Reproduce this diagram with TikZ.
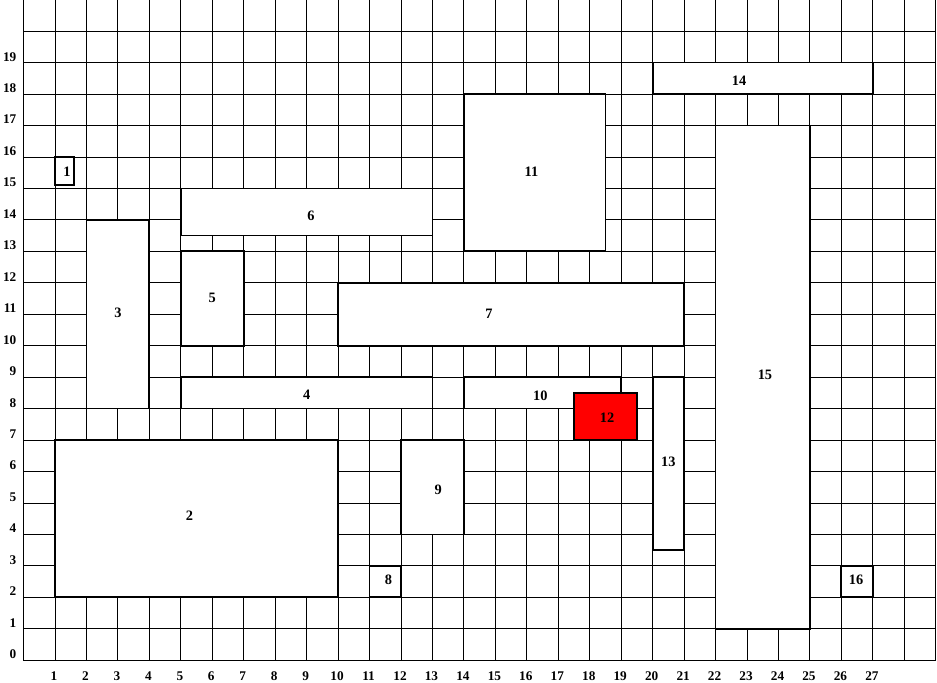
\documentclass[tikz,border=0pt]{standalone}
\usepackage{fontspec}
\setmainfont{Liberation Serif}
\begin{document}
\begin{tikzpicture}[x=1cm,y=1cm,
  gridline/.style={line width=0.8pt,black},
  blk/.style={draw=black,line width=1.6pt,fill=white},
  lbl/.style={font=\fontsize{13}{15}\selectfont\bfseries,inner sep=0pt},
  axl/.style={font=\fontsize{12}{14}\selectfont\bfseries,inner sep=0pt}]
\useasboundingbox (-0.747,-0.70) rectangle (29.04,20.99);
\begin{scope}
\clip (-0.747,-0.70) rectangle (29.04,20.99);
\draw[gridline] (0,0) grid (29,21);
\end{scope}
% axis labels
\foreach \i in {1,...,27} \node[axl,anchor=base] (xl\i) at (\i-0.03,-0.63) {\i};
\foreach \j in {0,...,19} \node[axl,anchor=base east] (yl\j) at (-0.22,\j+0.05) {\j};
% boxes
\draw[blk] (1,15.1) rectangle (1.6,16);
\draw[blk] (1,2) rectangle (10,7);
\draw[blk] (2,8) rectangle (4,14);
\draw[blk] (5,8) rectangle (13,9);
\draw[blk] (5,10) rectangle (7,13);
\draw[blk] (5,13.5) rectangle (13,15);
\draw[blk] (10,10) rectangle (21,12);
\draw[blk] (11,2) rectangle (12,3);
\draw[blk] (12,4) rectangle (14,7);
\draw[blk] (14,8) rectangle (19,9);
\draw[blk] (14,13) rectangle (18.5,18);
\draw[blk,fill=red] (17.5,7) rectangle (19.5,8.5);
\draw[blk] (20,3.5) rectangle (21,9);
\draw[blk] (20,18) rectangle (27,19);
\draw[blk] (22,1) rectangle (25,17);
\draw[blk] (26,2) rectangle (27,3);
% labels
\node[lbl] (b1) at (1.38,15.54) {1};
\node[lbl] (b2) at (5.28,4.6) {2};
\node[lbl] (b3) at (3.0,11.05) {3};
\node[lbl] (b4) at (9.0,8.45) {4};
\node[lbl] (b5) at (6.0,11.52) {5};
\node[lbl] (b6) at (9.14,14.14) {6};
\node[lbl] (b7) at (14.8,11.0) {7};
\node[lbl] (b8) at (11.6,2.55) {8};
\node[lbl] (b9) at (13.18,5.42) {9};
\node[lbl] (b10) at (16.43,8.42) {10};
\node[lbl] (b11) at (16.15,15.52) {11};
\node[lbl] (b12) at (18.55,7.72) {12};
\node[lbl] (b13) at (20.5,6.3) {13};
\node[lbl] (b14) at (22.75,18.43) {14};
\node[lbl] (b15) at (23.57,9.07) {15};
\node[lbl] (b16) at (26.47,2.55) {16};
\end{tikzpicture}
\end{document}
